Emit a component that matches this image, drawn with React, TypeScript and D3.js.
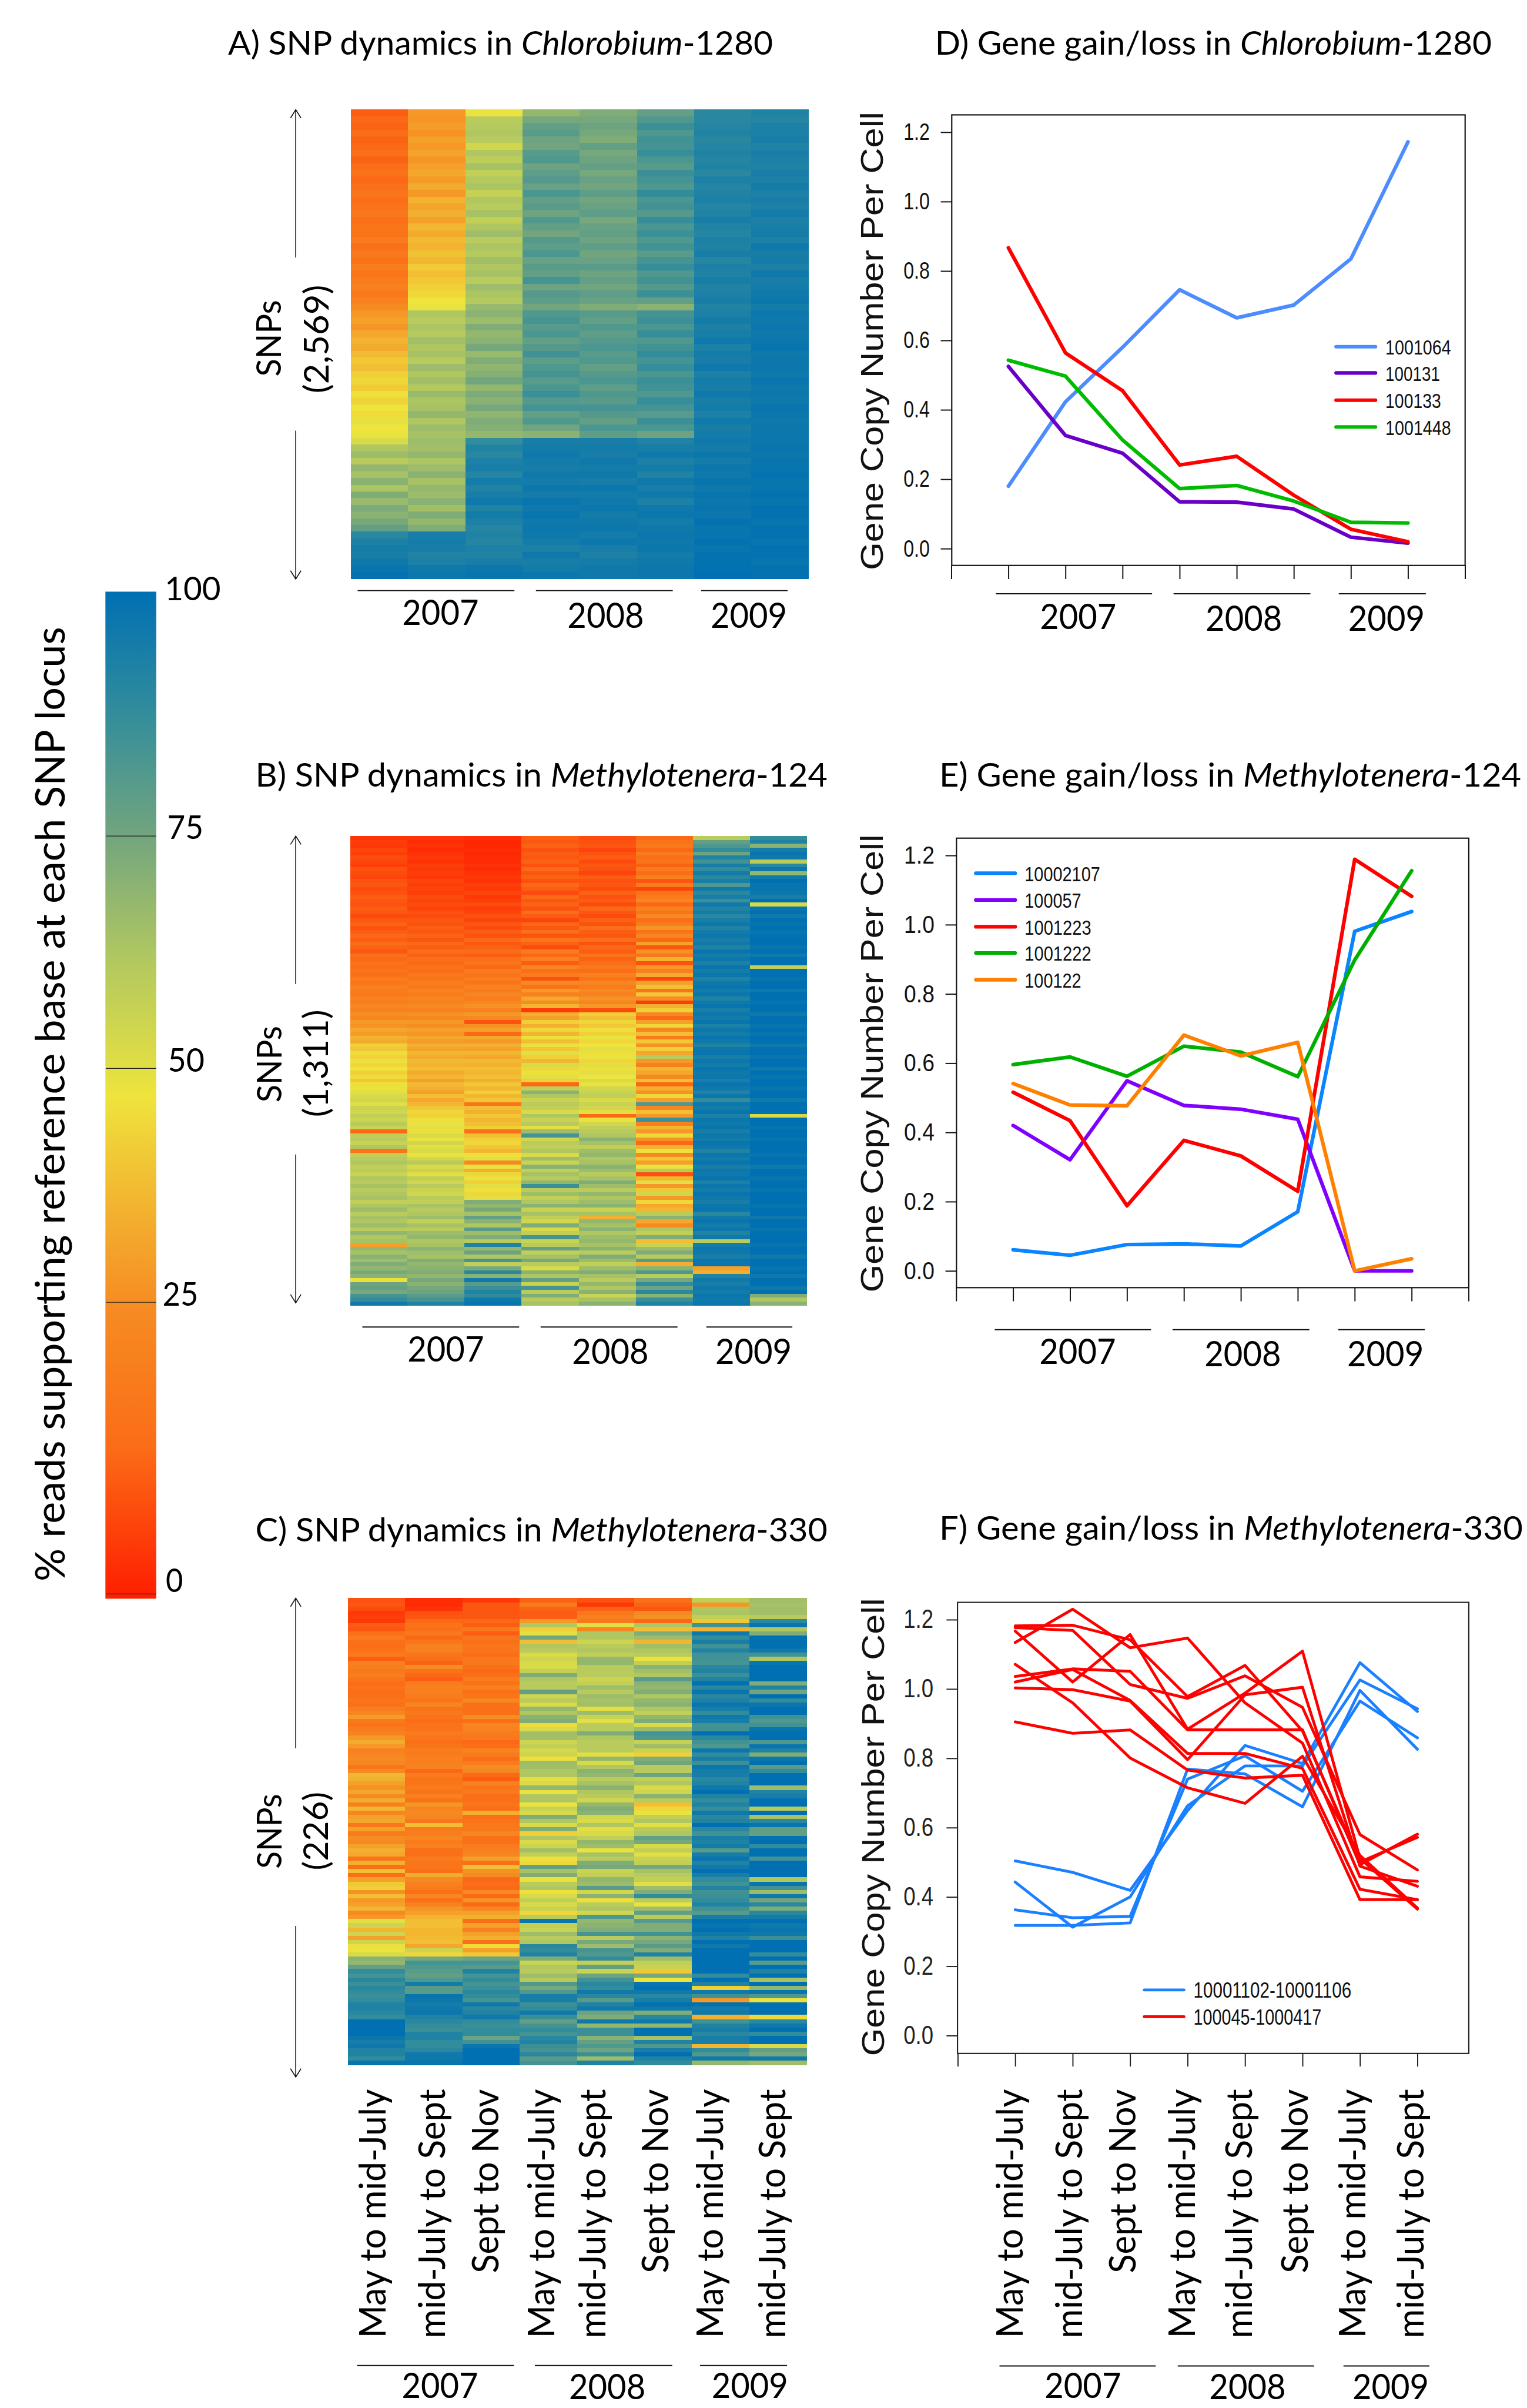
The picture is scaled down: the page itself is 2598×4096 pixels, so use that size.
import React, { useEffect, useRef } from "react";
import * as d3 from "d3";

const FULL_W = 2912;
const FULL_H = 4591;
const CALIBRI = "Lato, 'Open Sans', sans-serif";
const ARIAL = "'Liberation Sans', Arial, sans-serif";

const periods = ["May to mid-July", "mid-July to Sept", "Sept to Nov", "May to mid-July", "mid-July to Sept", "Sept to Nov", "May to mid-July", "mid-July to Sept"];
const years = ["2007", "2008", "2009"];
const yTicks = [0, 0.2, 0.4, 0.6, 0.8, 1.0, 1.2];

// colour key
const colorDomain = [0, 12.5, 25, 37.5, 47, 62.5, 75, 87.5, 100];
const colorRange = ["#ff2000", "#fb6c17", "#f68d23", "#f2bc33", "#eee43c", "#aec662", "#72a57e", "#338d9b", "#0070b3"];
const keyTicks = [100, 75, 50, 25, 0];

// % reference base, one row per band of SNPs, one column per period
const heatA = [
  [10,28,48,68,72,78,90,92],[12,27,60,74,74,82,90,91],[11,29,61,78,76,86,91,93],[13,26,62,80,74,82,92,93],[11,30,60,76,72,85,90,94],
  [12,28,54,75,78,84,91,92],[14,31,62,80,74,87,92,94],[11,27,59,82,76,83,91,93],[13,30,64,76,78,80,92,92],[15,32,58,79,74,86,90,94],
  [12,29,61,81,77,84,93,93],[14,33,63,77,75,82,91,95],[16,28,57,83,79,88,92,93],[13,35,62,78,75,83,93,94],[15,31,60,80,77,85,91,93],
  [17,34,64,76,79,81,92,95],[14,30,58,82,74,87,94,93],[16,36,62,78,77,83,92,94],[15,33,66,75,78,86,91,95],[18,37,60,81,76,82,93,93],
  [14,35,63,79,79,85,92,96],[17,39,61,83,75,80,94,94],[15,36,65,77,77,84,91,95],[19,41,62,80,80,87,93,93],[16,38,64,78,76,82,92,96],
  [18,40,60,84,78,85,94,94],[20,42,66,76,75,81,92,95],[17,44,63,81,79,86,93,96],[21,47,61,79,77,78,94,97],[24,48,67,75,72,70,92,95],
  [28,62,70,82,80,84,93,97],[30,60,66,84,78,86,95,96],[27,63,72,80,82,83,93,97],[32,61,68,83,79,87,94,96],[35,65,70,78,81,82,96,97],
  [33,62,74,81,83,85,93,98],[37,64,67,85,80,88,95,96],[40,60,72,79,82,84,94,97],[38,66,69,82,78,87,96,97],[42,62,71,84,81,83,93,96],
  [44,65,75,80,83,86,95,98],[41,61,68,83,79,85,94,96],[46,67,73,86,82,82,96,97],[43,63,70,81,80,87,94,96],[47,64,74,84,84,84,95,98],
  [45,68,69,78,81,80,93,97],[49,62,72,82,78,86,96,96],[47,66,71,75,83,83,94,97],[48,64,68,70,79,76,95,97],[52,66,88,94,94,92,96,97],
  [62,65,92,95,95,94,95,98],[66,68,90,96,94,96,97,97],[60,63,93,95,96,93,95,98],[68,66,94,94,95,95,97,98],[64,70,91,96,96,92,96,99],
  [70,64,95,95,94,96,98,98],[63,68,92,97,97,94,96,98],[72,66,94,95,95,96,98,99],[67,70,96,98,96,93,97,98],[73,65,92,96,97,96,98,99],
  [70,72,95,98,95,97,97,99],[74,68,93,96,96,95,99,98],[78,72,91,97,97,96,98,99],[90,94,92,96,95,97,98,99],[93,95,91,95,97,96,99,98],
  [95,94,93,93,94,97,98,99],[94,92,92,96,93,95,99,99],[96,93,94,94,95,96,99,98],[98,96,97,95,96,97,99,99],[99,97,98,97,96,97,100,99],
];

const heatB = [
  [3,3,2,10,7,12,60,88],[5,2,1,9,8,15,78,92],[4,3,1,11,9,17,82,70],[6,2,2,8,6,12,88,95],[5,3,1,10,8,18,76,98],[7,4,2,9,10,14,92,96],
  [6,3,2,11,7,16,85,60],[5,5,3,8,9,11,94,90],[8,4,2,12,8,18,88,97],[7,5,3,9,6,13,95,68],[6,4,4,11,10,20,90,96],[8,6,3,8,8,9,94,100],
  [9,5,5,12,9,19,82,98],[7,6,4,10,7,6,96,98],[8,5,6,7,11,15,90,97],[10,7,4,12,8,18,94,94],[9,6,5,9,10,22,86,100],[8,7,7,11,7,12,96,52],
  [10,6,5,8,12,20,92,98],[9,8,6,13,9,16,95,100],[7,7,8,10,7,24,90,96],[9,9,6,6,11,13,94,100],[11,8,9,12,8,19,97,98],[8,10,7,9,13,27,92,100],
  [10,9,10,14,10,15,95,98],[12,11,8,8,9,22,97,99],[10,9,12,16,14,12,94,100],[13,12,9,11,8,30,96,100],[11,10,11,7,12,9,92,98],[9,13,13,18,10,26,98,100],
  [14,11,10,12,15,17,95,96],[12,14,14,20,11,35,97,100],[15,12,16,10,14,8,93,100],[13,15,12,22,17,28,98,58],[16,13,18,14,13,20,95,100],[14,17,15,19,20,33,97,100],
  [18,15,19,8,15,6,92,98],[16,19,16,24,22,30,96,100],[20,17,21,15,18,38,98,100],[18,21,18,28,24,16,95,96],[17,18,22,20,20,40,97,100],[21,22,19,32,26,25,92,100],
  [19,20,23,25,22,5,96,98],[23,24,26,36,28,34,98,100],[21,21,21,4,7,42,94,100],[25,26,28,34,42,24,97,96],[22,23,24,30,38,12,95,100],[28,28,8,42,44,30,98,100],
  [26,25,26,34,40,44,93,98],[32,30,30,44,46,22,97,100],[29,27,12,36,42,38,95,98],[35,32,32,46,48,18,98,100],[33,29,28,38,44,40,96,100],[42,34,34,48,47,26,92,96],
  [40,31,30,40,50,42,97,100],[45,36,36,50,46,32,98,100],[43,33,32,42,48,60,94,98],[46,37,37,36,44,28,97,100],[44,35,34,52,50,20,95,100],[47,38,38,44,46,36,98,96],
  [42,33,36,46,50,32,96,100],[45,36,38,50,47,24,97,98],[40,30,34,42,52,38,94,100],[46,37,40,12,48,12,98,100],[48,34,36,58,54,34,96,98],[50,30,42,70,56,26,92,100],
  [52,38,36,62,58,44,97,100],[54,32,40,56,52,30,88,96],[50,36,16,60,56,82,97,100],[56,40,38,58,54,22,95,100],[54,44,34,52,50,38,98,100],[58,42,40,62,12,28,93,52],
  [55,46,36,56,48,86,97,100],[60,48,38,60,54,20,96,100],[56,50,42,50,58,36,98,98],[12,46,14,66,60,28,94,100],[58,52,38,84,62,44,97,100],[60,48,42,54,70,26,95,98],
  [56,54,44,60,64,12,98,100],[62,50,40,58,58,34,96,100],[16,52,36,62,66,46,92,100],[58,48,46,52,68,24,97,98],[60,54,50,66,62,40,95,100],[62,60,24,56,64,30,98,100],
  [58,52,48,70,70,48,94,96],[60,56,34,58,66,60,97,100],[56,50,44,64,60,8,96,100],[62,58,48,60,64,36,98,98],[60,54,42,68,72,50,93,100],[64,60,50,86,66,28,97,100],
  [60,56,46,60,60,40,95,98],[62,54,44,66,68,54,98,100],[64,60,50,58,62,28,96,100],[58,58,72,62,66,44,94,100],[62,64,68,70,70,32,97,98],[66,60,74,56,56,36,98,100],
  [60,62,64,64,64,60,90,100],[64,66,78,58,34,70,96,96],[62,58,70,54,68,32,98,100],[66,64,62,72,64,24,95,100],[60,60,80,52,70,62,97,98],[68,66,66,58,62,58,92,100],
  [62,68,72,84,66,72,96,100],[64,62,60,56,68,38,60,100],[30,64,92,60,64,56,95,98],[68,70,68,78,70,66,97,100],[64,66,76,58,60,72,96,100],[70,64,62,64,72,60,94,96],
  [66,72,84,74,66,80,98,100],[72,68,58,60,58,34,97,100],[68,70,74,52,66,70,30,98],[74,72,90,70,72,82,34,100],[70,68,70,62,64,60,92,96],[46,74,96,78,60,74,96,100],
  [76,70,80,56,68,88,94,100],[78,74,86,84,62,76,97,96],[74,76,92,60,70,90,95,100],[84,80,88,72,56,70,98,72],[88,84,96,60,64,86,96,62],[96,92,98,64,70,92,97,70],
];

const heatC = [
  [8,2,4,11,8,14,58,65],[9,2,9,18,4,11,27,64],[7,3,9,11,11,9,62,65],[4,8,9,10,17,24,63,65],[5,9,9,10,20,26,58,60],[4,12,12,28,17,12,40,90],
  [10,15,10,62,50,62,85,98],[9,14,17,42,22,38,35,62],[14,17,10,50,62,72,96,72],[18,12,16,75,62,66,88,100],[14,16,14,38,55,36,94,100],[13,20,16,62,60,65,85,100],
  [15,20,16,60,62,62,92,96],[18,16,13,52,58,60,85,85],[10,14,17,55,68,48,85,62],[20,11,17,52,68,58,84,98],[19,25,14,52,60,70,90,100],[17,15,12,58,60,65,92,100],
  [19,12,14,72,60,62,86,100],[16,10,18,62,55,80,92,100],[13,19,15,60,58,70,100,72],[15,20,20,60,66,68,90,92],[13,20,14,78,60,72,98,75],[14,18,16,55,66,62,90,100],
  [16,16,23,60,64,68,93,88],[14,22,14,52,65,70,98,97],[19,15,14,68,50,62,94,100],[22,17,14,62,66,58,88,100],[29,15,25,70,56,68,96,85],[17,13,14,72,50,72,94,82],
  [15,15,22,45,60,52,85,85],[18,15,21,52,60,66,85,98],[21,18,18,65,72,84,100,100],[28,16,17,65,62,82,90,100],[33,14,12,55,60,57,85,82],[28,16,13,58,60,66,82,98],
  [20,19,21,53,60,56,97,92],[22,18,18,55,50,42,88,72],[24,20,13,46,68,72,94,97],[22,20,18,66,52,75,86,100],[16,21,25,65,62,60,97,80],[24,12,22,62,70,60,95,88],
  [36,18,12,62,68,76,94,100],[34,15,10,50,60,58,90,100],[30,16,20,52,64,62,92,100],[26,18,16,68,70,52,96,66],[32,16,18,48,62,55,100,92],[24,20,13,62,60,70,92,94],
  [33,15,14,62,54,60,88,100],[20,27,16,48,68,38,92,100],[36,22,13,56,72,44,87,60],[22,24,34,52,70,48,96,100],[30,22,14,72,54,58,90,64],[32,17,15,62,52,62,92,90],
  [17,38,17,52,62,50,100,98],[30,18,17,72,50,60,90,78],
  [18,19,22,42,52,62,85,78],[25,22,14,62,58,78,94,99],[24,18,14,52,68,74,92,100],[30,20,18,55,66,52,95,88],[34,14,20,65,48,58,80,100],[32,14,22,58,64,50,94,100],
  [15,18,30,46,60,56,98,85],[34,16,14,44,72,58,92,100],[14,16,38,78,74,74,96,100],[38,14,26,64,56,64,100,100],[14,33,24,72,58,60,94,100],[30,24,12,46,68,58,88,62],
  [40,20,13,60,66,50,85,98],[42,18,12,62,80,66,92,85],[26,14,24,46,54,72,85,66],[38,22,12,52,70,88,86,96],[28,14,26,58,46,60,88,75],[30,20,12,52,60,48,92,90],
  [36,27,22,56,62,66,85,72],[24,30,30,44,54,78,80,90],[28,35,34,60,82,60,94,95],[50,38,14,97,68,80,100,100],[55,38,30,58,70,72,98,96],[36,36,20,56,72,72,100,98],
  [55,36,30,66,84,85,96,96],[30,37,34,60,60,70,92,86],[55,38,14,62,74,74,100,100],[46,32,45,90,66,80,96,100],[48,55,30,88,84,72,100,100],[52,44,40,92,82,92,100,88],
  [70,74,76,72,88,66,100,100],[68,84,84,56,58,58,100,80],[78,82,80,62,78,56,100,100],[88,80,92,60,56,40,100,92],[84,78,84,66,76,74,88,100],[90,82,88,60,85,47,100,64],
  [86,95,84,82,90,98,92,100],[90,80,86,74,88,100,42,68],[88,80,90,82,96,96,96,98],[86,98,88,94,90,90,85,82],[88,97,84,94,80,94,28,46],[92,95,96,86,92,100,100,100],
  [92,96,90,88,96,96,95,100],[90,97,92,96,76,72,96,100],[88,92,96,86,72,90,34,44],[100,90,88,78,96,96,85,90],[100,88,86,84,68,68,92,96],[100,86,88,88,86,100,94,100],
  [100,92,88,84,86,100,90,88],[97,92,76,90,70,64,94,100],[94,88,85,92,78,92,94,100],[96,88,97,86,82,82,36,52],[92,90,100,84,76,94,88,78],[92,96,100,90,86,100,82,74],
  [88,96,100,80,66,92,96,96],[98,98,100,84,92,88,68,66],
];

// gene copy number per cell
const seriesD = [
  { name: "1001064", color: "#4d8cff", values: [0.18, 0.423, 0.58, 0.746, 0.665, 0.702, 0.835, 1.172] },
  { name: "100131", color: "#6a00c8", values: [0.525, 0.326, 0.275, 0.135, 0.134, 0.114, 0.033, 0.016] },
  { name: "100133", color: "#ff0000", values: [0.867, 0.564, 0.455, 0.241, 0.266, 0.154, 0.056, 0.02] },
  { name: "1001448", color: "#00bb00", values: [0.543, 0.497, 0.313, 0.173, 0.182, 0.137, 0.076, 0.074] },
];
const seriesE = [
  { name: "10002107", color: "#0a84ff", values: [0.061, 0.045, 0.076, 0.078, 0.072, 0.171, 0.981, 1.038] },
  { name: "100057", color: "#8000ff", values: [0.42, 0.321, 0.549, 0.478, 0.467, 0.438, 0, 0] },
  { name: "1001223", color: "#ff0000", values: [0.516, 0.434, 0.188, 0.377, 0.332, 0.23, 1.189, 1.082] },
  { name: "1001222", color: "#00b000", values: [0.596, 0.618, 0.562, 0.649, 0.632, 0.561, 0.898, 1.156] },
  { name: "100122", color: "#ff8000", values: [0.541, 0.479, 0.477, 0.681, 0.621, 0.66, 0, 0.035] },
];
const blueF = [
  [0.504, 0.471, 0.419, 0.649, 0.837, 0.785, 1.076, 0.935],
  [0.443, 0.313, 0.4, 0.663, 0.778, 0.778, 1.026, 0.943],
  [0.363, 0.34, 0.344, 0.74, 0.807, 0.705, 0.965, 0.859],
  [0.318, 0.318, 0.325, 0.769, 0.755, 0.66, 0.996, 0.826],
];
const redF = [
  [1.134, 1.23, 1.119, 1.147, 0.96, 0.844, 0.458, 0.445],
  [1.182, 1.184, 1.142, 0.978, 1.068, 0.879, 0.501, 0.572],
  [1.177, 1.169, 1.013, 0.973, 1.038, 0.947, 0.58, 0.478],
  [1.167, 1.02, 1.157, 0.884, 0.988, 1.109, 0.511, 0.365],
  [1.036, 1.058, 1.051, 0.882, 0.882, 0.882, 0.493, 0.581],
  [1.02, 1.056, 0.967, 0.814, 0.814, 0.771, 0.422, 0.392],
  [1.003, 0.998, 0.965, 0.796, 0.983, 1.005, 0.489, 0.431],
  [0.905, 0.872, 0.882, 0.766, 0.743, 0.751, 0.392, 0.392],
  [1.071, 0.96, 0.801, 0.715, 0.67, 0.806, 0.52, 0.368],
];
const seriesF = [
  ...blueF.map((values) => ({ name: "", color: "#1a80ff", values })),
  ...redF.map((values) => ({ name: "", color: "#ff0000", values })),
];

// layout, in reference pixels
const heatLayouts = [
  {
    letter: "A) SNP dynamics in ", genus: "Chlorobium", strain: "-1280", titleX: 435, titleLen: 1039, titleY: 104,
    rows: heatA, x: [669, 1542], y: [209, 1103], arrow: [209, 491, 821, 1104],
    snp: [536, 718, 146], count: "(2,569)", countPos: [627, 750, 207],
    barY: 1126, bars: [[682, 981], [1022, 1283], [1337, 1502]], labels: [[767, 1192], [1082, 1197], [1355, 1197]],
  },
  {
    letter: "B) SNP dynamics in ", genus: "Methylotenera", strain: "-124", titleX: 487, titleLen: 1091, titleY: 1500,
    rows: heatB, x: [668, 1539], y: [1594, 2489], arrow: [1594, 1876, 2201, 2484],
    snp: [537, 2102, 146], count: "(1,311)", countPos: [626, 2130, 205],
    barY: 2530, bars: [[691, 990], [1031, 1292], [1347, 1511]], labels: [[777, 2596], [1091, 2600], [1364, 2600]],
  },
  {
    letter: "C) SNP dynamics in ", genus: "Methylotenera", strain: "-330", titleX: 487, titleLen: 1091, titleY: 2939,
    rows: heatC, x: [663, 1538], y: [3047, 3937], arrow: [3047, 3333, 3672, 3960],
    snp: [537, 3563, 143], count: "(226)", countPos: [626, 3566, 150],
    barY: 4510, bars: [[681, 980], [1020, 1282], [1335, 1501]], labels: [[766, 4572], [1085, 4574], [1357, 4572]],
  },
];

const lineLayouts = [
  {
    letter: "D) Gene gain/loss in ", genus: "Chlorobium", strain: "-1280", titleX: 1783, titleLen: 1062, titleY: 104,
    series: seriesD, box: [1815, 2794, 219, 1078], x: [1923, 2685], y: [1046, 252], xTicks: [-1, 0, 1, 2, 3, 4, 5, 6, 7, 8],
    tickLabelLen: 50, tickFont: 45, tickPad: 21, tickH: 26, tickColor: "#111",
    yTitle: [1684, 1087, 874],
    legend: { lineX: [2548, 2623], textX: 2642, ys: [661, 711, 763, 814], lens: [125, 104, 106, 125], size: 40 },
    barY: 1132, bars: [[1899, 2197], [2238, 2499], [2553, 2719]], labels: [[1983, 1199], [2299, 1203], [2571, 1203]], lw: 7,
  },
  {
    letter: "E) Gene gain/loss in ", genus: "Methylotenera", strain: "-124", titleX: 1791, titleLen: 1110, titleY: 1500,
    series: seriesE, box: [1824, 2801, 1598, 2455], x: [1932, 2692], y: [2423, 1631], xTicks: [-1, 0, 1, 2, 3, 4, 5, 6, 7, 8],
    tickLabelLen: 58, tickFont: 47, tickPad: 21, tickH: 26, tickColor: "#111",
    yTitle: [1684, 2464, 873],
    legend: { lineX: [1861, 1936], textX: 1954, ys: [1665, 1716, 1767, 1817, 1868], lens: [144, 108, 127, 127, 108], size: 40 },
    barY: 2535, bars: [[1897, 2195], [2236, 2497], [2552, 2717]], labels: [[1982, 2600], [2297, 2605], [2569, 2605]], lw: 7,
  },
  {
    letter: "F) Gene gain/loss in ", genus: "Methylotenera", strain: "-330", titleX: 1791, titleLen: 1113, titleY: 2935,
    series: seriesF, box: [1826, 2801, 3055, 3915], x: [1936, 2703], y: [3881, 3088], xTicks: [-1, 0, 1, 2, 3, 4, 5, 6, 7],
    tickLabelLen: 57, tickFont: 49, tickPad: 25, tickH: 25, tickColor: "#222",
    yTitle: [1686, 3920, 873],
    legend: {
      lineX: [2182, 2258], textX: 2276, ys: [3794, 3845], lens: [301, 244], size: 41,
      names: ["10001102-10001106", "100045-1000417"], colors: ["#1a80ff", "#ff0000"],
    },
    barY: 4511, bars: [[1906, 2204], [2246, 2506], [2562, 2726]], labels: [[1992, 4572], [2306, 4574], [2579, 4574]], lw: 5.4,
  },
];

const heatPeriodX = [735, 848, 951, 1057, 1154, 1274, 1379, 1497];
const linePeriodX = [1950, 2063, 2165, 2279, 2387, 2494, 2604, 2715];

function label(parent: any, str: string, x: number, y: number, o: any = {}) {
  const t = parent
    .append("text")
    .attr("x", x)
    .attr("y", y)
    .attr("font-family", o.family || CALIBRI)
    .attr("font-size", o.size || 62)
    .attr("fill", o.fill || "#000")
    .attr("text-anchor", o.anchor || "start")
    .text(str);
  if (o.len) t.attr("textLength", o.len).attr("lengthAdjust", "spacingAndGlyphs");
  if (o.rot) t.attr("transform", `rotate(-90 ${x} ${y})`);
  return t;
}

function panelTitle(svg: any, p: any) {
  const t = svg
    .append("text")
    .attr("x", p.titleX)
    .attr("y", p.titleY)
    .attr("font-family", CALIBRI)
    .attr("font-size", 64)
    .attr("textLength", p.titleLen)
    .attr("lengthAdjust", "spacingAndGlyphs");
  t.append("tspan").text(p.letter);
  t.append("tspan").attr("font-style", "italic").text(p.genus);
  t.append("tspan").text(p.strain);
}

function yearMarks(svg: any, p: any) {
  years.forEach((yr, i) => {
    svg
      .append("line")
      .attr("x1", p.bars[i][0])
      .attr("x2", p.bars[i][1])
      .attr("y1", p.barY)
      .attr("y2", p.barY)
      .attr("stroke", "#111")
      .attr("stroke-width", 2.2);
    label(svg, yr, p.labels[i][0], p.labels[i][1], { size: 68, len: 146 });
  });
}

function drawHeat(svg: any, p: any, color: any) {
  const cols = d3.scaleBand<number>().domain(d3.range(8)).range(p.x as [number, number]);
  const rowScale = d3.scaleBand<number>().domain(d3.range(p.rows.length)).range(p.y as [number, number]);
  const g = svg.append("g").attr("shape-rendering", "crispEdges");
  p.rows.forEach((row: number[], r: number) => {
    g.selectAll(null)
      .data(row)
      .enter()
      .append("rect")
      .attr("x", (_: number, c: number) => cols(c))
      .attr("y", rowScale(r))
      .attr("width", cols.bandwidth() + 0.5)
      .attr("height", rowScale.bandwidth() + 0.5)
      .attr("fill", (d: number) => color(d));
  });

  // double arrow with the SNP count set in its gap
  const ax = 564;
  const [top, gapA, gapB, bottom] = p.arrow;
  const path = d3.path();
  path.moveTo(ax, top);
  path.lineTo(ax, gapA);
  path.moveTo(ax, gapB);
  path.lineTo(ax, bottom);
  path.moveTo(ax - 10, top + 16);
  path.lineTo(ax, top);
  path.lineTo(ax + 10, top + 16);
  path.moveTo(ax - 10, bottom - 16);
  path.lineTo(ax, bottom);
  path.lineTo(ax + 10, bottom - 16);
  svg.append("path").attr("d", path.toString()).attr("fill", "none").attr("stroke", "#111").attr("stroke-width", 1.8);

  label(svg, "SNPs", p.snp[0], p.snp[1], { rot: true, size: 66, len: p.snp[2] });
  label(svg, p.count, p.countPos[0], p.countPos[1], { rot: true, size: 66, len: p.countPos[2] });
  panelTitle(svg, p);
  yearMarks(svg, p);
}

function drawLines(svg: any, p: any) {
  const [left, right, top, bottom] = p.box;
  const x = d3.scaleLinear().domain([0, 7]).range(p.x);
  const y = d3.scaleLinear().domain([0, 1.2]).range(p.y);

  const xAxis = d3.axisBottom(x).tickValues(p.xTicks).tickSize(p.tickH).tickFormat(() => "");
  const xg = svg.append("g").attr("transform", `translate(0,${bottom})`).call(xAxis);
  xg.select(".domain").remove();
  xg.selectAll("line").attr("stroke", p.tickColor).attr("stroke-width", 2.2);

  const yAxis = d3.axisLeft(y).tickValues(yTicks).tickSize(21).tickPadding(p.tickPad).tickFormat(d3.format(".1f") as any);
  const yg = svg.append("g").attr("transform", `translate(${left},0)`).call(yAxis);
  yg.select(".domain").remove();
  yg.selectAll("line").attr("stroke", p.tickColor).attr("stroke-width", 2.2);
  yg.selectAll("text")
    .attr("font-family", ARIAL)
    .attr("font-size", p.tickFont)
    .attr("fill", p.tickColor)
    .attr("textLength", p.tickLabelLen)
    .attr("lengthAdjust", "spacingAndGlyphs");

  svg
    .append("rect")
    .attr("x", left)
    .attr("y", top)
    .attr("width", right - left)
    .attr("height", bottom - top)
    .attr("fill", "none")
    .attr("stroke", p.tickColor)
    .attr("stroke-width", 2.4);

  const line = d3
    .line<number>()
    .x((_, i) => x(i))
    .y((d) => y(d));
  p.series.forEach((s: any) => {
    svg
      .append("path")
      .attr("d", line(s.values))
      .attr("fill", "none")
      .attr("stroke", s.color)
      .attr("stroke-width", p.lw)
      .attr("stroke-linejoin", "round")
      .attr("stroke-linecap", "round");
  });

  const lg = p.legend;
  lg.ys.forEach((ly: number, i: number) => {
    const name = lg.names ? lg.names[i] : p.series[i].name;
    const col = lg.colors ? lg.colors[i] : p.series[i].color;
    svg
      .append("line")
      .attr("x1", lg.lineX[0])
      .attr("x2", lg.lineX[1])
      .attr("y1", ly)
      .attr("y2", ly)
      .attr("stroke", col)
      .attr("stroke-width", p.lw)
      .attr("stroke-linecap", "round");
    label(svg, name, lg.textX, ly + 15, { family: ARIAL, size: lg.size, len: lg.lens[i], fill: "#111" });
  });

  label(svg, "Gene Copy Number Per Cell", p.yTitle[0], p.yTitle[1], {
    rot: true,
    family: ARIAL,
    size: 61,
    len: p.yTitle[2],
    fill: "#111",
  });
  panelTitle(svg, p);
  yearMarks(svg, p);
}

function drawPeriods(svg: any, xs: number[]) {
  periods.forEach((name, i) => {
    label(svg, name, xs[i], 3983, { rot: true, anchor: "end", size: 70, len: name === "Sept to Nov" ? 351 : 475 });
  });
}

function drawKey(svg: any, color: any) {
  const keyY = d3.scaleLinear().domain([0, 25, 50, 75, 100]).range([3039, 2483, 2037, 1594, 1129]);
  const [x0, x1, y0, y1] = [201, 298, 1128, 3048];
  const grad = svg
    .append("defs")
    .append("linearGradient")
    .attr("id", "keyGrad")
    .attr("x1", 0)
    .attr("x2", 0)
    .attr("y1", 0)
    .attr("y2", 1);
  colorDomain
    .slice()
    .reverse()
    .forEach((v) => {
      grad
        .append("stop")
        .attr("offset", (keyY(v) - y0) / (y1 - y0))
        .attr("stop-color", color(v));
    });
  svg.append("rect").attr("x", x0).attr("y", y0).attr("width", x1 - x0).attr("height", y1 - y0).attr("fill", "url(#keyGrad)");

  const keyLabels = [
    { x: 314, y: 1144, len: 107 },
    { x: 319, y: 1599, len: 69 },
    { x: 320, y: 2043, len: 70 },
    { x: 310, y: 2489, len: 68 },
    { x: 316, y: 3035, len: 33 },
  ];
  keyTicks.forEach((v, i) => {
    svg
      .append("line")
      .attr("x1", x0 + 1)
      .attr("x2", x1)
      .attr("y1", keyY(v))
      .attr("y2", keyY(v))
      .attr("stroke", "#222")
      .attr("stroke-width", v === 100 ? 0 : 1.2);
    label(svg, String(v), keyLabels[i].x, keyLabels[i].y, { size: 64, len: keyLabels[i].len });
  });
  label(svg, "% reads supporting reference base at each SNP locus", 123, 3015, { rot: true, size: 78, len: 1820 });
}

export default function App() {
  const ref = useRef<SVGSVGElement>(null);

  useEffect(() => {
    const svg = d3.select(ref.current);
    svg.selectAll("*").remove();
    const color = d3.scaleLinear<string>().domain(colorDomain).range(colorRange).interpolate(d3.interpolateRgb);

    drawKey(svg, color);
    heatLayouts.forEach((p) => drawHeat(svg, p, color));
    lineLayouts.forEach((p) => drawLines(svg, p));
    drawPeriods(svg, heatPeriodX);
    drawPeriods(svg, linePeriodX);
  }, []);

  return (
    <svg
      ref={ref}
      width={2598}
      height={4096}
      viewBox={`0 0 ${FULL_W} ${FULL_H}`}
      style={{ position: "absolute", left: 0, top: 0, display: "block", background: "#fff" }}
    />
  );
}
